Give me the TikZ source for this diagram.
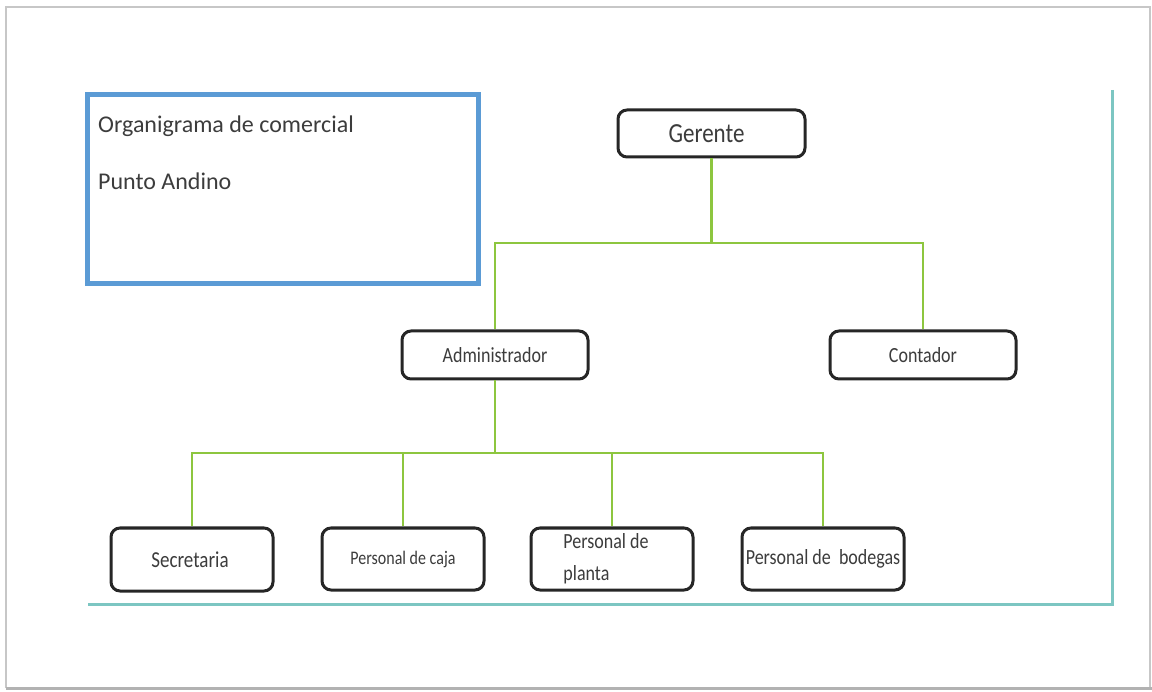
\documentclass[tikz,border=0pt]{standalone}
\usepackage{fontspec}
\setmainfont{Carlito}
\usepackage{graphicx}
\definecolor{lgreen}{HTML}{8DC63F}
\definecolor{tealline}{HTML}{7CC6C2}
\definecolor{bluebox}{HTML}{5B9BD5}
\definecolor{txt}{HTML}{3C3C3C}
\newcommand\tallt[1]{\scalebox{1}[1.2]{#1}}
\begin{document}
\begin{tikzpicture}[x=1pt,y=-1pt,
  org/.style={draw=black!85, line width=3pt, rounded corners=9pt, fill=white,
    inner sep=0pt, text=txt},
  link/.style={draw=lgreen, line width=2.8pt},
  title/.style={anchor=base west, inner sep=0pt, text=txt, font=\fontsize{24}{28}\selectfont}]
\useasboundingbox (0,0) rectangle (1152,692);
% outer frame
\draw[black!22, line width=1.5pt] (6,688) -- (6,7) -- (1150,7) -- (1150,688);
\draw[black!30, line width=3pt] (6,688.5) -- (1152,688.5);
% teal frame lines
\draw[tealline, line width=3pt] (1112,90) -- (1112,604) -- (88,604);
% title box
\node[draw=bluebox, line width=5pt, minimum width=391pt, minimum height=189pt, inner sep=0pt]
  (tbox) at (282.5,189.5) {};
\node[title] (t1) at (98,133) {Organigrama de comercial};
\node[title] (t2) at (98,190) {Punto Andino};
% org nodes
\node[org, minimum width=187pt, minimum height=47pt, font=\fontsize{23}{26}\selectfont]
  (ger) at (711.5,133.5) {\tallt{Gerente}\hspace*{10pt}};
\node[org, minimum width=186pt, minimum height=48pt, font=\fontsize{18}{22}\selectfont]
  (adm) at (495,355) {\tallt{Administrador}};
\node[org, minimum width=186pt, minimum height=48pt, font=\fontsize{18}{22}\selectfont]
  (con) at (923,355) {\tallt{Contador}};
\node[org, minimum width=162pt, minimum height=63pt, font=\fontsize{19}{22}\selectfont]
  (sec) at (192,559.5) {\tallt{Secretaria}\hspace*{4pt}};
\node[org, minimum width=162pt, minimum height=62pt, font=\fontsize{16}{20}\selectfont]
  (caj) at (403,559) {\tallt{Personal de caja}};
\node[org, minimum width=162pt, minimum height=62pt, font=\fontsize{18}{32}\selectfont,
  align=left] (pla) at (612,559) {\tallt{Personal de}\hspace*{12pt}\\\tallt{planta}};
\node[org, minimum width=162pt, minimum height=62pt, font=\fontsize{18}{20}\selectfont]
  (bod) at (823,559) {\tallt{Personal de\ \ bodegas}};
% connectors level 1
\coordinate (j1) at (711.5,243);
\draw[link] (ger.south) -- (j1);
\draw[link] (adm.north) -- (adm.north |- j1) -- (con.north |- j1) -- (con.north);
% connectors level 2
\coordinate (j2) at (495,453);
\draw[link] (adm.south) -- (j2);
\draw[link] (sec.north) -- (sec.north |- j2) -- (bod.north |- j2) -- (bod.north);
\draw[link] (caj.north |- j2) -- (caj.north);
\draw[link] (pla.north |- j2) -- (pla.north);
\end{tikzpicture}
\end{document}
